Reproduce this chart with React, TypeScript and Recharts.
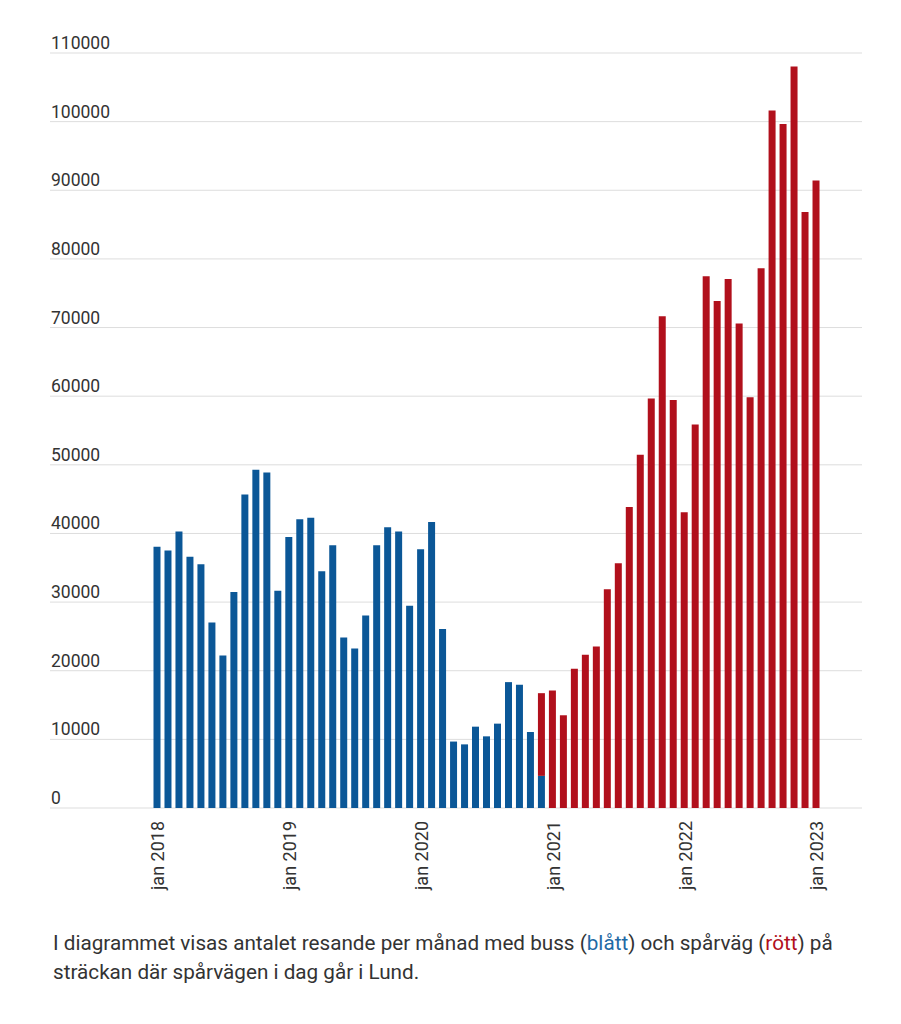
import React from 'react';
import { BarChart, Bar, XAxis, YAxis, CartesianGrid } from 'recharts';

const monthNames = ['jan', 'feb', 'mar', 'apr', 'maj', 'jun', 'jul', 'aug', 'sep', 'okt', 'nov', 'dec'];
const years = [2018, 2019, 2020, 2021, 2022, 2023];

// buss, jan 2018 – dec 2020
const busValues = [
  38080, 37500, 40270, 36620, 35500, 27040, 22230, 31470, 45670, 49270, 48880, 31660,
  39490, 42070, 42270, 34480, 38280, 24850, 23250, 28060, 38280, 40900, 40270, 29470,
  37690, 41680, 26070, 9680, 9270, 11850, 10440, 12290, 18340, 17950, 11070, 4680,
];

// spårväg, dec 2020 – jan 2023
const tramValues = [
  12050,
  17120, 13510, 20290, 22340, 23530, 31860, 35650, 43860, 51450, 59650, 71650, 59440,
  43080, 55860, 77480, 73850, 77070, 70600, 59850, 78630, 101630, 99640, 108050, 86850,
  91420,
];
const tramStart = 35;

const yTicks = [0, 10000, 20000, 30000, 40000, 50000, 60000, 70000, 80000, 90000, 100000, 110000];

const BLUE = '#0b5797';
const RED = '#b1101c';
const TEXT = '#333333';
const FONT = 'Roboto, "Noto Sans", sans-serif';

const months: string[] = [];
years.forEach(y => monthNames.forEach(m => months.push(`${m} ${y}`)));
months.length = busValues.length + tramValues.length - 1;

const data = months.map((month, i) => ({
  month,
  buss: i < busValues.length ? busValues[i] : null,
  sparvag: i >= tramStart ? tramValues[i - tramStart] : null,
}));

const renderYTick = (props: any) => {
  const { y, payload } = props;
  return (
    <text key={payload.value} x={43} y={y - 4} textAnchor="start" fontSize={17.5} fill={TEXT} fontFamily={FONT}>
      {payload.value}
    </text>
  );
};

const renderXTick = (props: any) => {
  const { x, y, payload } = props;
  if (!String(payload.value).startsWith('jan')) return <g key={payload.value} />;
  return (
    <g key={payload.value} transform={`translate(${x + 1},${y + 5})`}>
      <text x={0} y={0} dy="0.36em" transform="rotate(-90)" textAnchor="end" fontSize={18} fill={TEXT} fontFamily={FONT}>
        {payload.value}
      </text>
    </g>
  );
};

const App: React.FC = () => {
  return (
    <div style={{ fontFamily: FONT, color: TEXT }}>
      <BarChart width={870} height={900} data={data} margin={{ top: 45, right: 16, left: 41, bottom: 0 }} barSize={7}>
        <CartesianGrid vertical={false} stroke="#dddddd" strokeWidth={1} />
        <XAxis
          dataKey="month"
          interval={0}
          height={100}
          padding={{ left: 101.5, right: 40.5 }}
          axisLine={false}
          tickLine={false}
          tick={renderXTick}
        />
        <YAxis
          width={1}
          domain={[0, 110000]}
          ticks={yTicks}
          interval={0}
          axisLine={false}
          tickLine={false}
          tick={renderYTick}
        />
        <Bar dataKey="buss" stackId="a" fill={BLUE} isAnimationActive={false} />
        <Bar dataKey="sparvag" stackId="a" fill={RED} isAnimationActive={false} />
      </BarChart>
      <div style={{ marginTop: 21, paddingLeft: 45, fontSize: 20.7, lineHeight: '29px' }}>
        I diagrammet visas antalet resande per månad med buss (<span style={{ color: '#1f6aa5' }}>blått</span>) och spårväg (<span style={{ color: RED }}>rött</span>) på
        <br />
        sträckan där spårvägen i dag går i Lund.
      </div>
    </div>
  );
};

export default App;
